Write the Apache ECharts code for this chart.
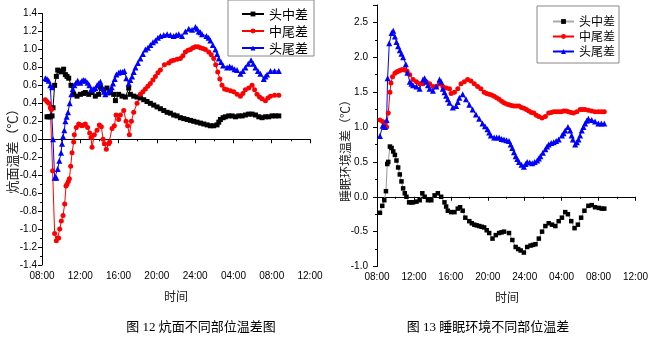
<!DOCTYPE html>
<html><head><meta charset="utf-8">
<script src="https://cdn.jsdelivr.net/npm/echarts@6/dist/echarts.min.js"></script>
<style>html,body{margin:0;padding:0;background:#fff}#c{width:651px;height:341px}</style>
</head><body><div id="c"></div>
<script>
// time in hours since 00:00 of day 1 (08:00 = 8, next-day 12:00 = 36)
const xTickLabels = ['08:00','12:00','16:00','20:00','24:00','04:00','08:00','12:00'];
const seriesNames = ['头中差','中尾差','头尾差'];
const caption1 = '图 12 炕面不同部位温差图';
const caption2 = '图 13 睡眠环境不同部位温差';
const yName1 = '炕面温差（℃）';
const yName2 = '睡眠环境温差（℃）';
const xName = '时间';

// Figure 12: kang surface
const kangHeadMid = [[8.52,0.25],[8.70,0.25],[8.87,0.25],[9.05,0.26],[9.15,0.35],[9.32,0.6],[9.50,0.7],[9.64,0.77],[9.85,0.76],[10.02,0.75],[10.26,0.78],[10.44,0.72],[10.61,0.70],[10.79,0.68],[11.03,0.6],[11.31,0.5],[11.66,0.48],[12.01,0.5],[12.36,0.51],[12.53,0.52],[12.88,0.5],[13.23,0.52],[13.57,0.48],[13.92,0.5],[14.10,0.58],[14.45,0.55],[14.79,0.57],[15.14,0.52],[15.49,0.5],[15.67,0.43],[16.01,0.5],[16.36,0.48],[16.71,0.47],[17.06,0.57],[17.23,0.5],[17.58,0.48],[17.93,0.47],[18.28,0.46],[18.63,0.44],[18.97,0.42],[19.32,0.40],[19.67,0.38],[20.02,0.36],[20.37,0.34],[20.72,0.32],[21.07,0.30],[21.41,0.29],[21.76,0.27],[22.11,0.26],[22.46,0.24],[22.81,0.23],[23.16,0.22],[23.51,0.21],[23.85,0.2],[24.20,0.19],[24.55,0.18],[24.90,0.17],[25.25,0.16],[25.59,0.15],[25.94,0.15],[26.29,0.16],[26.47,0.19],[26.64,0.22],[26.92,0.24],[27.16,0.25],[27.51,0.26],[27.86,0.26],[28.21,0.25],[28.56,0.26],[28.91,0.26],[29.25,0.27],[29.60,0.28],[29.95,0.28],[30.30,0.27],[30.65,0.25],[30.99,0.24],[31.34,0.25],[31.69,0.25],[32.04,0.26],[32.39,0.26],[32.74,0.26]];
const kangMidTail = [[8.35,0.44],[8.52,0.42],[8.70,0.40],[8.87,0.35],[8.98,0.33],[9.11,-0.35],[9.32,-1.05],[9.50,-1.13],[9.64,-1.10],[9.74,-1.10],[9.85,-1.0],[10.02,-0.91],[10.20,-0.85],[10.37,-0.72],[10.51,-0.52],[10.61,-0.50],[10.75,-0.47],[10.86,-0.44],[11.00,-0.30],[11.14,-0.15],[11.31,-0.03],[11.38,0.05],[11.59,0.13],[11.83,0.17],[12.01,0.16],[12.18,0.15],[12.36,0.16],[12.53,0.17],[12.77,0.13],[12.98,0.07],[13.12,0.02],[13.23,-0.09],[13.47,0.05],[13.75,0.10],[13.99,0.16],[14.20,0.14],[14.38,0.0],[14.52,-0.05],[14.72,-0.11],[14.97,-0.05],[15.07,-0.03],[15.32,0.12],[15.56,0.15],[15.74,0.27],[16.01,0.22],[16.19,0.27],[16.54,0.32],[16.78,0.2],[16.95,0.15],[17.13,0.05],[17.34,0.2],[17.58,0.3],[17.93,0.4],[18.28,0.5],[18.54,0.53],[18.80,0.56],[19.06,0.59],[19.32,0.62],[19.59,0.66],[19.85,0.7],[20.11,0.74],[20.37,0.77],[20.79,0.83],[21.24,0.85],[21.50,0.87],[21.76,0.88],[22.11,0.89],[22.46,0.9],[22.72,0.93],[22.98,0.97],[23.25,0.99],[23.51,1.0],[23.77,1.02],[24.03,1.03],[24.29,1.03],[24.55,1.02],[24.81,1.01],[25.07,1.0],[25.42,0.97],[25.68,0.94],[25.94,0.9],[26.15,0.83],[26.36,0.75],[26.58,0.67],[26.81,0.6],[27.08,0.56],[27.34,0.55],[27.69,0.54],[28.03,0.53],[28.38,0.5],[28.73,0.48],[28.99,0.51],[29.25,0.55],[29.60,0.57],[29.95,0.6],[30.21,0.55],[30.47,0.5],[30.73,0.47],[30.99,0.45],[31.34,0.43],[31.60,0.46],[31.87,0.48],[32.30,0.49],[32.74,0.49]];
const kangHeadTail = [[8.35,0.68],[8.52,0.67],[8.70,0.65],[8.87,0.60],[9.05,0.58],[9.15,0.0],[9.32,-0.43],[9.50,-0.43],[9.64,-0.33],[9.81,-0.24],[9.99,-0.15],[10.09,-0.05],[10.20,0.03],[10.33,0.1],[10.44,0.2],[10.58,0.25],[10.72,0.3],[10.89,0.4],[11.07,0.5],[11.22,0.56],[11.38,0.6],[11.55,0.63],[11.73,0.65],[12.01,0.63],[12.18,0.65],[12.36,0.66],[12.55,0.65],[12.77,0.63],[12.95,0.6],[13.12,0.55],[13.35,0.56],[13.57,0.57],[13.75,0.6],[13.92,0.62],[14.10,0.64],[14.34,0.57],[14.48,0.53],[14.62,0.5],[14.86,0.52],[15.14,0.55],[15.28,0.58],[15.42,0.62],[15.60,0.67],[15.77,0.72],[16.01,0.74],[16.19,0.75],[16.40,0.75],[16.61,0.76],[16.81,0.68],[17.06,0.62],[17.23,0.66],[17.41,0.7],[17.58,0.75],[17.76,0.8],[18.02,0.85],[18.28,0.9],[18.54,0.95],[18.80,1.0],[19.06,1.02],[19.32,1.05],[19.59,1.08],[19.85,1.1],[20.11,1.13],[20.37,1.15],[20.72,1.16],[21.07,1.17],[21.41,1.16],[21.76,1.15],[22.02,1.16],[22.29,1.17],[22.63,1.15],[22.98,1.2],[23.33,1.23],[23.68,1.22],[24.03,1.25],[24.20,1.23],[24.38,1.2],[24.55,1.19],[24.72,1.17],[25.18,1.15],[25.40,1.13],[25.59,1.1],[25.85,1.05],[26.12,1.0],[26.30,0.95],[26.47,0.9],[26.70,0.86],[26.92,0.82],[27.34,0.8],[27.60,0.81],[27.86,0.8],[28.12,0.78],[28.38,0.77],[28.73,0.73],[28.99,0.76],[29.25,0.8],[29.55,0.84],[29.84,0.88],[30.07,0.84],[30.30,0.8],[30.56,0.76],[30.82,0.73],[31.17,0.67],[31.34,0.7],[31.52,0.72],[31.87,0.76],[32.30,0.76],[32.74,0.76]];

// Figure 13: sleeping environment
const envHeadMid = [[8.32,-0.23],[8.57,-0.13],[8.79,-0.05],[8.97,0.08],[9.11,0.47],[9.22,0.5],[9.40,0.72],[9.58,0.7],[9.76,0.65],[9.94,0.6],[10.11,0.52],[10.29,0.42],[10.47,0.32],[10.65,0.22],[10.83,0.12],[11.01,0.05],[11.19,0.0],[11.48,-0.08],[11.70,-0.08],[11.91,-0.08],[12.27,-0.07],[12.62,-0.05],[12.91,0.05],[13.16,0.0],[13.52,-0.05],[13.88,-0.05],[14.24,0.02],[14.59,0.05],[14.95,0.0],[15.31,-0.08],[15.49,-0.14],[15.67,-0.2],[16.03,-0.22],[16.39,-0.22],[16.75,-0.17],[17.00,-0.15],[17.28,-0.2],[17.57,-0.3],[18.00,-0.35],[18.27,-0.38],[18.54,-0.4],[18.80,-0.41],[19.07,-0.42],[19.34,-0.43],[19.61,-0.44],[19.88,-0.48],[20.15,-0.52],[20.51,-0.6],[20.87,-0.55],[21.23,-0.52],[21.50,-0.51],[21.76,-0.5],[22.30,-0.52],[22.66,-0.62],[23.02,-0.72],[23.29,-0.75],[23.56,-0.77],[23.91,-0.8],[24.27,-0.72],[24.63,-0.7],[24.90,-0.69],[25.17,-0.68],[25.53,-0.6],[25.88,-0.5],[26.24,-0.42],[26.60,-0.38],[26.96,-0.4],[27.32,-0.42],[27.68,-0.35],[28.03,-0.3],[28.39,-0.22],[28.68,-0.25],[29.04,-0.35],[29.40,-0.45],[29.76,-0.4],[30.11,-0.3],[30.47,-0.2],[30.90,-0.13],[31.26,-0.12],[31.62,-0.15],[32.05,-0.16],[32.35,-0.17],[32.62,-0.17]];
const envMidTail = [[8.32,1.1],[8.61,1.08],[8.86,1.05],[9.04,1.0],[9.22,1.2],[9.40,1.5],[9.51,1.63],[9.68,1.72],[9.94,1.77],[10.11,1.79],[10.29,1.8],[10.47,1.81],[10.65,1.82],[10.83,1.82],[11.01,1.82],[11.26,1.8],[11.55,1.75],[11.91,1.68],[12.27,1.65],[12.62,1.62],[12.98,1.62],[13.34,1.65],[13.70,1.62],[14.06,1.58],[14.42,1.58],[14.77,1.62],[15.13,1.58],[15.49,1.56],[15.85,1.55],[16.03,1.48],[16.39,1.5],[16.75,1.55],[17.10,1.62],[17.46,1.65],[17.82,1.68],[18.18,1.66],[18.54,1.62],[18.90,1.58],[19.25,1.55],[19.61,1.5],[19.88,1.48],[20.15,1.47],[20.42,1.46],[20.69,1.44],[20.96,1.42],[21.23,1.4],[21.50,1.37],[21.76,1.35],[22.03,1.33],[22.30,1.32],[22.57,1.31],[22.84,1.3],[23.11,1.3],[23.38,1.3],[23.65,1.28],[23.91,1.27],[24.18,1.25],[24.45,1.23],[24.72,1.21],[24.99,1.2],[25.26,1.17],[25.53,1.15],[25.88,1.13],[26.24,1.15],[26.60,1.2],[26.87,1.21],[27.14,1.22],[27.41,1.22],[27.68,1.22],[27.95,1.22],[28.21,1.23],[28.48,1.23],[28.75,1.22],[29.02,1.21],[29.29,1.2],[29.65,1.22],[30.01,1.25],[30.28,1.25],[30.54,1.25],[30.90,1.24],[31.26,1.23],[31.62,1.22],[31.98,1.22],[32.30,1.22],[32.62,1.22]];
const envHeadTail = [[8.32,0.87],[8.61,1.02],[8.86,1.0],[9.04,1.1],[9.15,1.7],[9.33,2.2],[9.58,2.35],[9.76,2.38],[9.94,2.3],[10.11,2.22],[10.29,2.16],[10.47,2.1],[10.65,2.05],[10.83,2.0],[11.12,1.9],[11.30,1.78],[11.55,1.65],[11.73,1.62],[11.91,1.6],[12.27,1.58],[12.62,1.55],[12.98,1.68],[13.16,1.7],[13.34,1.65],[13.52,1.6],[13.70,1.55],[14.06,1.52],[14.42,1.58],[14.77,1.68],[14.95,1.65],[15.13,1.55],[15.31,1.5],[15.49,1.45],[15.67,1.4],[15.85,1.35],[16.21,1.28],[16.57,1.3],[16.75,1.36],[16.92,1.42],[17.28,1.47],[17.64,1.4],[18.00,1.32],[18.36,1.25],[18.72,1.18],[19.07,1.12],[19.43,1.05],[19.70,1.01],[19.97,0.97],[20.15,0.92],[20.33,0.88],[20.69,0.85],[20.96,0.85],[21.23,0.85],[21.50,0.83],[21.76,0.82],[22.03,0.81],[22.30,0.8],[22.48,0.75],[22.66,0.7],[22.84,0.64],[23.02,0.58],[23.20,0.54],[23.38,0.5],[23.65,0.46],[23.91,0.43],[24.09,0.47],[24.27,0.5],[24.54,0.49],[24.81,0.48],[25.08,0.5],[25.35,0.52],[25.53,0.55],[25.70,0.58],[25.97,0.63],[26.24,0.68],[26.42,0.72],[26.60,0.75],[26.87,0.77],[27.14,0.78],[27.41,0.8],[27.68,0.82],[28.03,0.88],[28.21,0.91],[28.39,0.95],[28.68,1.0],[28.93,0.95],[29.08,0.88],[29.22,0.82],[29.47,0.75],[29.65,0.78],[29.83,0.82],[30.00,0.88],[30.18,0.95],[30.36,1.0],[30.54,1.05],[30.72,1.09],[30.90,1.12],[31.26,1.1],[31.62,1.08],[31.98,1.05],[32.30,1.05],[32.62,1.05]];

const chart = echarts.init(document.getElementById('c'), null, {renderer: 'canvas'});
const labelFont = {fontFamily: '"Liberation Sans Narrow", "Liberation Sans", Arial, sans-serif', fontSize: 10, color: '#000'};
const cjk = '"Noto Sans CJK SC", sans-serif';

function xAxisOf(gi) {
  return {
    gridIndex: gi, type: 'value', min: 8, max: 36, interval: 4,
    axisLine: {lineStyle: {color: '#000', width: 1}},
    axisTick: {show: true, inside: false, length: 4, lineStyle: {color: '#000'}},
    minorTick: {show: true, splitNumber: 2, length: 2, lineStyle: {color: '#000'}},
    splitLine: {show: false},
    axisLabel: Object.assign({margin: 6, formatter: v => xTickLabels[Math.round((v - 8) / 4)] || ''}, labelFont)
  };
}
function yAxisOf(gi, min, max, interval, margin) {
  return {
    gridIndex: gi, type: 'value', min: min, max: max, interval: interval,
    axisLine: {show: true, lineStyle: {color: '#000', width: 1}},
    axisTick: {show: true, inside: false, length: 4, lineStyle: {color: '#000'}},
    minorTick: {show: true, splitNumber: 2, length: 2, lineStyle: {color: '#000'}},
    splitLine: {show: false},
    axisLabel: Object.assign({margin: margin, showMaxLabel: interval === 0.2, formatter: v => v.toFixed(1)}, labelFont)
  };
}
function lineSeries(name, data, xi, symbol, size, color, lineColor) {
  return {
    name: name, type: 'line', xAxisIndex: xi, yAxisIndex: xi, data: data,
    symbol: symbol, symbolSize: size, showSymbol: true,
    itemStyle: {color: color},
    lineStyle: {color: lineColor || color, width: 1},
    emphasis: {disabled: true}, animation: false
  };
}

const option = {
  animation: false,
  backgroundColor: '#fff',
  grid: [
    {left: 42, top: 13.5, width: 268, height: 251.5},
    {left: 377, top: 5, width: 260, height: 261.5}
  ],
  xAxis: [xAxisOf(0), xAxisOf(1)],
  yAxis: [yAxisOf(0, -1.4, 1.4, 0.2, 5), yAxisOf(1, -1, 2.75, 0.5, 9)],
  legend: [
    {
      orient: 'vertical', left: 228, top: 0, itemWidth: 22, itemHeight: 6, itemGap: 3,
      padding: [7, 6, 1, 13], borderColor: '#888', borderWidth: 1,
      textStyle: {fontFamily: cjk, fontSize: 13, color: '#000', lineHeight: 14},
      data: seriesNames.map(n => ({name: n}))
    },
    {
      orient: 'vertical', left: 537, top: 6, itemWidth: 21, itemHeight: 6, itemGap: 2,
      padding: [9, 4, 5, 15], borderColor: '#888', borderWidth: 1,
      textStyle: {fontFamily: cjk, fontSize: 12, color: '#000', lineHeight: 13},
      data: [
        {name: seriesNames[0], itemStyle: {color: '#000'}, lineStyle: {color: '#aaa'}},
        {name: seriesNames[1], itemStyle: {color: '#ff0000'}, lineStyle: {color: '#ff0000'}},
        {name: seriesNames[2], itemStyle: {color: '#0000ff'}, lineStyle: {color: '#0000ff'}}
      ]
    }
  ],
  series: [
    lineSeries(seriesNames[0], kangHeadMid, 0, 'rect', 5, '#000'),
    lineSeries(seriesNames[1], kangMidTail, 0, 'circle', 5, '#ff0000'),
    lineSeries(seriesNames[2], kangHeadTail, 0, 'triangle', 6, '#0000ff'),
    lineSeries(seriesNames[0], envHeadMid, 1, 'rect', 4.5, '#000', '#999'),
    lineSeries(seriesNames[1], envMidTail, 1, 'circle', 5, '#ff0000'),
    lineSeries(seriesNames[2], envHeadTail, 1, 'triangle', 6, '#0000ff')
  ],
  graphic: [
    {type: 'text', x: 12, y: 148, rotation: Math.PI / 2, style: {text: yName1, font: '13px ' + cjk, fill: '#222', textAlign: 'center', textVerticalAlign: 'middle'}},
    {type: 'text', x: 345, y: 148, rotation: Math.PI / 2, style: {text: yName2, font: '12px ' + cjk, fill: '#222', textAlign: 'center', textVerticalAlign: 'middle'}},
    {type: 'text', x: 176, y: 296, style: {text: xName, font: '12px ' + cjk, fill: '#222', textAlign: 'center', textVerticalAlign: 'middle'}},
    {type: 'text', x: 507, y: 297, style: {text: xName, font: '12px ' + cjk, fill: '#222', textAlign: 'center', textVerticalAlign: 'middle'}},
    {type: 'text', x: 201, y: 328, style: {text: caption1, font: '13px "Liberation Serif", ' + cjk, fill: '#000', textAlign: 'center', textVerticalAlign: 'middle'}},
    {type: 'text', x: 488, y: 328, style: {text: caption2, font: '13px "Liberation Serif", ' + cjk, fill: '#000', textAlign: 'center', textVerticalAlign: 'middle'}}
  ]
};
chart.setOption(option);
</script></body></html>
